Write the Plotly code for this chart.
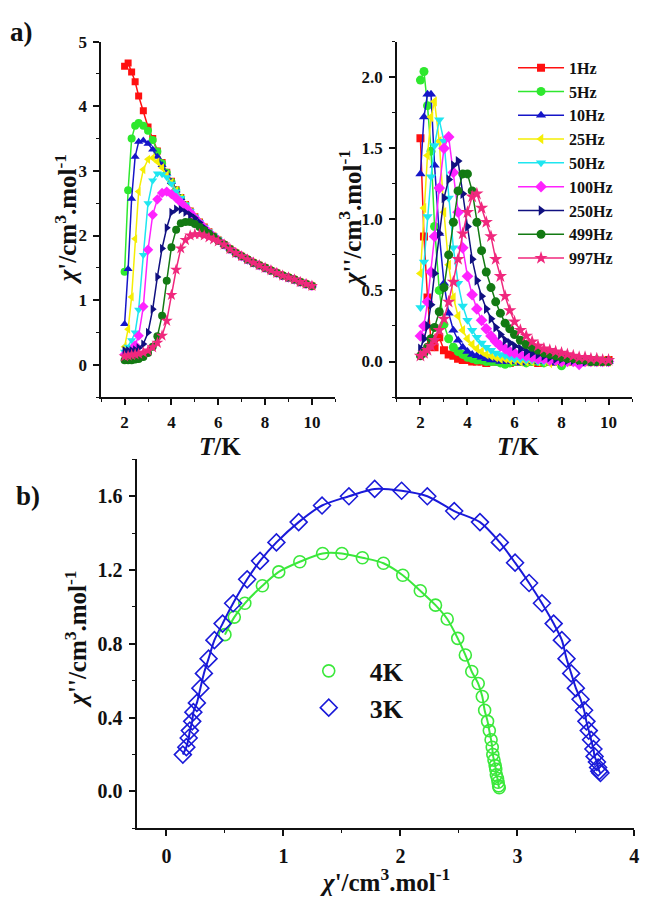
import plotly.graph_objects as go

# ---------------------------------------------------------------- data
# temperatures (K) of the ac measurements
T_ac = [2.0, 2.15, 2.3, 2.45, 2.6, 2.8, 3.0, 3.2, 3.4, 3.6, 3.8, 4.0, 4.2, 4.4,
        4.6, 4.8, 5.0, 5.2, 5.4, 5.6, 5.8, 6.0, 6.25, 6.5, 6.75, 7.0, 7.25, 7.5,
        7.75, 8.0, 8.25, 8.5, 8.75, 9.0, 9.25, 9.5, 9.75, 10.0]

freq_labels = ["1Hz", "5Hz", "10Hz", "25Hz", "50Hz", "100Hz", "250Hz", "499Hz", "997Hz"]

# in-phase susceptibility chi' : 2.0 K ... 6.0 K per frequency, then the common paramagnetic part
chi1_tail = [1.86, 1.79, 1.73, 1.68, 1.63, 1.58, 1.54, 1.50, 1.46, 1.42, 1.38,
             1.35, 1.32, 1.28, 1.25, 1.22]
chi1_1Hz = [4.62, 4.67, 4.53, 4.38, 4.16, 3.93, 3.68, 3.50, 3.31, 3.13, 2.98, 2.84,
            2.71, 2.59, 2.48, 2.38, 2.29, 2.21, 2.13, 2.06, 1.99, 1.93]
chi1_5Hz = [1.44, 2.70, 3.50, 3.70, 3.74, 3.70, 3.62, 3.48, 3.30, 3.12, 2.97, 2.83,
            2.70, 2.58, 2.47, 2.37, 2.28, 2.20, 2.12, 2.05, 1.99, 1.93]
chi1_10Hz = [0.63, 1.48, 2.57, 3.22, 3.45, 3.47, 3.42, 3.33, 3.22, 3.09, 2.96, 2.83,
             2.70, 2.58, 2.47, 2.37, 2.28, 2.20, 2.12, 2.05, 1.99, 1.93]
chi1_25Hz = [0.28, 0.55, 1.05, 1.95, 2.68, 3.02, 3.18, 3.20, 3.14, 3.05, 2.94, 2.82,
             2.70, 2.58, 2.47, 2.37, 2.28, 2.20, 2.12, 2.05, 1.99, 1.93]
chi1_50Hz = [0.20, 0.28, 0.38, 0.50, 0.85, 1.70, 2.50, 2.85, 2.96, 2.95, 2.90, 2.80,
             2.68, 2.58, 2.48, 2.38, 2.29, 2.21, 2.13, 2.06, 2.00, 1.94]
chi1_100Hz = [0.16, 0.18, 0.22, 0.30, 0.45, 0.90, 1.78, 2.32, 2.56, 2.66, 2.68, 2.64,
              2.58, 2.51, 2.44, 2.36, 2.28, 2.20, 2.12, 2.05, 1.99, 1.93]
chi1_250Hz = [0.22, 0.22, 0.22, 0.23, 0.26, 0.32, 0.50, 0.86, 1.36, 1.80, 2.12, 2.36,
              2.41, 2.40, 2.36, 2.32, 2.27, 2.20, 2.12, 2.05, 1.99, 1.93]
chi1_499Hz = [0.07, 0.07, 0.07, 0.08, 0.09, 0.12, 0.18, 0.28, 0.44, 0.76, 1.30, 1.82,
              2.09, 2.19, 2.21, 2.21, 2.18, 2.13, 2.08, 2.03, 1.98, 1.92]
chi1_997Hz = [0.13, 0.14, 0.15, 0.16, 0.17, 0.19, 0.22, 0.27, 0.34, 0.45, 0.68, 1.08,
              1.47, 1.80, 1.93, 2.00, 2.02, 2.02, 2.00, 1.97, 1.94, 1.91]

# out-of-phase susceptibility chi''
chi2_1Hz = [1.57, 0.88, 0.45, 0.14, 0.10, 0.17, 0.08, 0.05, 0.04, 0.02, 0.01, 0.01,
            0.00, 0.00, 0.00, -0.01, 0.00, 0.00, 0.00, 0.00, -0.01, 0.00, 0.00, 0.00,
            0.00, -0.01, 0.00, 0.00, 0.00, -0.01, 0.00, 0.00, 0.00, 0.00, 0.01, 0.00,
            0.00, 0.01]
chi2_5Hz = [1.98, 2.04, 1.80, 1.48, 0.95, 0.50, 0.26, 0.16, 0.10, 0.07, 0.05, 0.03,
            0.02, 0.01, 0.01, 0.00, 0.00, 0.00, -0.01, -0.02, -0.01, 0.00, 0.00, -0.01,
            0.00, 0.00, -0.01, 0.00, 0.00, -0.03, 0.00, 0.00, 0.00, 0.00, 0.00, 0.01,
            0.00, 0.00]
chi2_10Hz = [1.32, 1.72, 1.88, 1.88, 1.38, 0.90, 0.55, 0.34, 0.22, 0.15, 0.10, 0.07,
             0.05, 0.04, 0.03, 0.02, 0.01, 0.01, 0.00, 0.00, 0.00, 0.00, -0.01, 0.00,
             0.00, 0.00, 0.00, 0.00, -0.01, 0.00, 0.00, 0.00, 0.00, 0.00, -0.01, 0.00,
             0.00, 0.00]
chi2_25Hz = [0.62, 1.08, 1.45, 1.72, 1.83, 1.55, 1.05, 0.68, 0.45, 0.32, 0.22, 0.16,
             0.12, 0.09, 0.07, 0.05, 0.04, 0.03, 0.02, 0.02, 0.01, 0.01, 0.00, 0.00,
             0.00, 0.00, 0.00, -0.01, 0.00, 0.00, 0.00, 0.00, 0.00, 0.00, 0.00, 0.00,
             0.00, 0.00]
chi2_50Hz = [0.38, 0.70, 1.02, 1.30, 1.52, 1.70, 1.55, 1.15, 0.80, 0.55, 0.39, 0.29,
             0.22, 0.17, 0.13, 0.10, 0.08, 0.06, 0.05, 0.04, 0.03, 0.02, 0.02, 0.01,
             0.01, 0.00, 0.00, 0.00, 0.00, 0.00, 0.00, 0.00, 0.00, 0.00, 0.00, 0.00,
             0.00, 0.00]
chi2_100Hz = [0.18, 0.25, 0.42, 0.63, 0.88, 1.22, 1.50, 1.58, 1.33, 1.05, 0.80, 0.60,
              0.47, 0.37, 0.29, 0.23, 0.18, 0.14, 0.11, 0.09, 0.07, 0.06, 0.05, 0.04,
              0.03, 0.02, 0.02, 0.01, 0.01, 0.00, 0.00, 0.00, -0.02, 0.00, 0.00, 0.00,
              0.00, 0.00]
chi2_250Hz = [0.09, 0.16, 0.25, 0.40, 0.62, 0.90, 1.15, 1.28, 1.38, 1.41, 1.18, 0.95,
              0.72, 0.57, 0.46, 0.37, 0.30, 0.24, 0.19, 0.15, 0.13, 0.11, 0.09, 0.07,
              0.06, 0.05, 0.04, 0.03, 0.02, 0.02, 0.01, 0.01, 0.01, 0.00, 0.00, 0.00,
              0.00, 0.00]
chi2_499Hz = [0.04, 0.06, 0.10, 0.16, 0.24, 0.35, 0.52, 0.75, 0.98, 1.20, 1.32, 1.32,
              1.20, 0.98, 0.78, 0.63, 0.52, 0.42, 0.34, 0.27, 0.23, 0.19, 0.15, 0.12,
              0.10, 0.08, 0.06, 0.05, 0.04, 0.03, 0.02, 0.02, 0.01, 0.01, 0.00, 0.00,
              0.00, 0.00]
chi2_997Hz = [0.04, 0.06, 0.08, 0.11, 0.15, 0.22, 0.30, 0.42, 0.56, 0.72, 0.90, 1.05,
              1.16, 1.18, 1.08, 0.98, 0.88, 0.72, 0.60, 0.46, 0.36, 0.28, 0.22, 0.18,
              0.14, 0.11, 0.09, 0.08, 0.07, 0.06, 0.05, 0.04, 0.03, 0.03, 0.02, 0.02,
              0.01, 0.01]

chi1_series = [chi1_1Hz, chi1_5Hz, chi1_10Hz, chi1_25Hz, chi1_50Hz, chi1_100Hz,
               chi1_250Hz, chi1_499Hz, chi1_997Hz]
chi2_series = [chi2_1Hz, chi2_5Hz, chi2_10Hz, chi2_25Hz, chi2_50Hz, chi2_100Hz,
               chi2_250Hz, chi2_499Hz, chi2_997Hz]

# Cole-Cole plots (chi', chi'') at 4 K and 3 K
cc4K_x = [0.50, 0.58, 0.67, 0.82, 0.96, 1.14, 1.335, 1.50, 1.675, 1.855, 2.02, 2.17,
          2.30, 2.40, 2.49, 2.555, 2.61, 2.665, 2.70, 2.72, 2.745, 2.76, 2.775, 2.785,
          2.79, 2.80, 2.81, 2.815, 2.82, 2.83, 2.835, 2.84, 2.845]
cc4K_y = [0.85, 0.945, 1.02, 1.115, 1.19, 1.245, 1.29, 1.29, 1.267, 1.237, 1.172, 1.088,
          1.01, 0.935, 0.83, 0.74, 0.65, 0.585, 0.515, 0.44, 0.38, 0.33, 0.28, 0.24,
          0.20, 0.17, 0.14, 0.12, 0.09, 0.07, 0.05, 0.03, 0.02]
cc3K_x = [0.14, 0.17, 0.19, 0.20, 0.22, 0.23, 0.26, 0.29, 0.32, 0.36, 0.41, 0.48, 0.57,
          0.69, 0.80, 0.94, 1.13, 1.33, 1.56, 1.78, 2.01, 2.23, 2.46, 2.68, 2.85, 2.98,
          3.10, 3.21, 3.31, 3.38, 3.42, 3.46, 3.50, 3.54, 3.57, 3.59, 3.61, 3.63, 3.65,
          3.66, 3.68, 3.69, 3.70, 3.71]
cc3K_y = [0.20, 0.24, 0.29, 0.33, 0.38, 0.43, 0.48, 0.56, 0.64, 0.72, 0.82, 0.91, 1.02,
          1.15, 1.25, 1.35, 1.46, 1.55, 1.60, 1.64, 1.63, 1.60, 1.52, 1.46, 1.35, 1.24,
          1.13, 1.02, 0.91, 0.82, 0.72, 0.64, 0.56, 0.50, 0.44, 0.38, 0.33, 0.28, 0.23,
          0.19, 0.16, 0.13, 0.11, 0.10]

# ---------------------------------------------------------------- style
FONT = "Liberation Serif"
INK = "#111111"
freq_colors = ["#FF1010", "#2EE82E", "#1515C8", "#F5EE05", "#1EE6F0", "#FF22FF",
               "#101080", "#137A13", "#F0287D"]
freq_symbols = ["square", "circle", "triangle-up", "triangle-left", "triangle-down",
                "diamond", "triangle-right", "circle", "star"]
freq_sizes = [7, 8, 8, 8, 8, 8, 8, 8, 9]
green_cc = "#3BE83B"
blue_cc = "#1A1AD9"

fig = go.Figure()

for i, name in enumerate(freq_labels):
    fig.add_trace(go.Scatter(
        x=T_ac, y=chi1_series[i] + chi1_tail, mode="lines+markers", name=name,
        legendgroup=name, showlegend=False, xaxis="x", yaxis="y",
        line=dict(color=freq_colors[i], width=1.5),
        marker=dict(symbol=freq_symbols[i], size=freq_sizes[i], color=freq_colors[i],
                    line=dict(width=0))))
for i, name in enumerate(freq_labels):
    fig.add_trace(go.Scatter(
        x=T_ac, y=chi2_series[i], mode="lines+markers", name=name,
        legendgroup=name, showlegend=True, legend="legend", xaxis="x2", yaxis="y2",
        line=dict(color=freq_colors[i], width=1.5),
        marker=dict(symbol=freq_symbols[i], size=freq_sizes[i] + 1, color=freq_colors[i],
                    line=dict(width=0))))

# generalized Debye fits drawn as smooth curves through the points
fig.add_trace(go.Scatter(x=cc4K_x, y=cc4K_y, mode="lines", showlegend=False,
                         xaxis="x3", yaxis="y3", line=dict(color=green_cc, width=2,
                                                           shape="spline", smoothing=0.8)))
fig.add_trace(go.Scatter(x=cc3K_x, y=cc3K_y, mode="lines", showlegend=False,
                         xaxis="x3", yaxis="y3", line=dict(color=blue_cc, width=2,
                                                           shape="spline", smoothing=0.8)))
fig.add_trace(go.Scatter(x=cc4K_x, y=cc4K_y, mode="markers", name="4K", legend="legend2",
                         xaxis="x3", yaxis="y3",
                         marker=dict(symbol="circle-open", size=12, color=green_cc,
                                     line=dict(width=1.6, color=green_cc))))
fig.add_trace(go.Scatter(x=cc3K_x, y=cc3K_y, mode="markers", name="3K", legend="legend2",
                         xaxis="x3", yaxis="y3",
                         marker=dict(symbol="diamond-open", size=13, color=blue_cc,
                                     line=dict(width=1.6, color=blue_cc))))


def axis_style(domain, rng, dtick, minor, size, anchor, fmt=None):
    d = dict(domain=domain, range=rng, anchor=anchor, dtick=dtick, tick0=0,
             ticks="outside", ticklen=6, tickwidth=1.5, tickcolor=INK,
             showline=True, linecolor=INK, linewidth=1.5, mirror=False,
             showgrid=False, zeroline=False, fixedrange=True,
             ticklabelstandoff=3,
             tickfont=dict(family=FONT, size=size, color=INK, weight="bold"),
             minor=dict(dtick=minor, tick0=0, ticks="outside", ticklen=3,
                        tickwidth=1, tickcolor=INK, showgrid=False))
    if fmt:
        d["tickformat"] = fmt
    return d


top_dom = [0.5630, 0.9632]
fig.update_layout(
    width=645, height=897, autosize=False,
    margin=dict(l=0, r=0, t=0, b=0),
    paper_bgcolor="white", plot_bgcolor="white",
    xaxis=axis_style([0.1581, 0.5240], [1, 11], 2, 1, 17, "y"),
    yaxis=axis_style(top_dom, [-0.5, 5], 1, 0.5, 17, "x"),
    xaxis2=axis_style([0.6202, 0.9876], [1, 11], 2, 1, 17, "y2"),
    yaxis2=axis_style(top_dom, [-0.25, 2.25], 0.5, 0.25, 17, "x2", ".1f"),
    xaxis3=axis_style([0.2144, 0.9912], [-0.25, 4], 1, 0.5, 20, "y3"),
    yaxis3=axis_style([0.0773, 0.4928], [-0.2, 1.8], 0.4, 0.2, 20, "x3", ".1f"),
    legend=dict(x=0.8016, y=0.953, xanchor="left", yanchor="top",
                bgcolor="rgba(0,0,0,0)", tracegroupgap=0, itemwidth=46,
                font=dict(family=FONT, size=16, color=INK, weight="bold")),
    legend2=dict(x=0.4496, y=0.281, xanchor="left", yanchor="top",
                 bgcolor="rgba(0,0,0,0)", tracegroupgap=0, itemwidth=72,
                 font=dict(family=FONT, size=26, color=INK, weight="bold")),
)

title_font = dict(family=FONT, size=25, color=INK, weight="bold")
ann = [
    dict(text="a)", x=0.034, y=0.974, font=dict(family=FONT, size=27, color=INK, weight="bold")),
    dict(text="b)", x=0.043, y=0.4515, font=dict(family=FONT, size=27, color=INK, weight="bold")),
    dict(text="<i>T</i>/K", x=0.343, y=0.5072, font=title_font),
    dict(text="<i>T</i>/K", x=0.810, y=0.5072, font=title_font),
    dict(text="<i>χ</i>'/cm<sup>3</sup>.mol<sup>-1</sup>", x=0.1023, y=0.7637,
         textangle=-90, font=title_font),
    dict(text="<i>χ</i>''/cm<sup>3</sup>.mol<sup>-1</sup>", x=0.5473, y=0.7637,
         textangle=-90, font=title_font),
    dict(text="<i>χ</i>''/cm<sup>3</sup>.mol<sup>-1</sup>", x=0.119, y=0.290,
         textangle=-90, font=title_font),
    dict(text="<i>χ</i>'/cm<sup>3</sup>.mol<sup>-1</sup>", x=0.6016, y=0.019,
         font=title_font),
]
for a in ann:
    a.update(xref="paper", yref="paper", showarrow=False, xanchor="center", yanchor="middle")
fig.update_layout(annotations=ann)

fig.write_html("out.html")
